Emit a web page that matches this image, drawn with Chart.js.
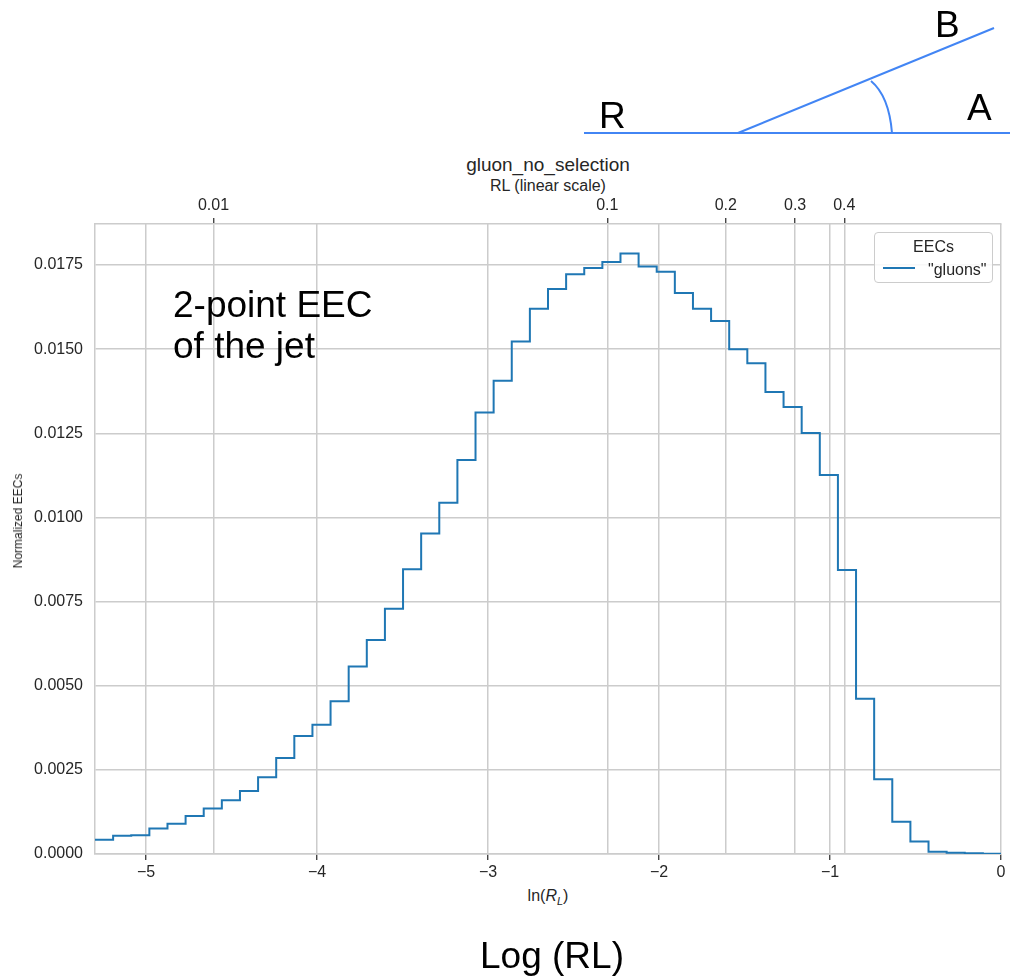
<!DOCTYPE html>
<html>
<head>
<meta charset="utf-8">
<title>gluon_no_selection</title>
<script src="https://cdn.jsdelivr.net/npm/chart.js@4.4.1/dist/chart.umd.min.js"></script>
<style>
  html, body { margin: 0; padding: 0; background: #fff; }
  #wrap {
    position: relative;
    width: 1013px;
    height: 978px;
    font-family: "Liberation Sans", Arial, sans-serif;
    color: #262626;
  }
  #chart { position: absolute; left: 0; top: 0; z-index: 2; }
  #sketch { position: absolute; left: 0; top: 0; z-index: 1; }
  .txt { position: absolute; white-space: nowrap; line-height: 1; }
  .big { color: #000; font-size: 37px; z-index: 3; }
  .center { transform: translateX(-50%); }
  #ylabel {
    position: absolute;
    left: 18px;
    top: 521px;
    font-size: 12px;
    line-height: 1;
    white-space: nowrap;
    transform: translate(-50%, -50%) rotate(-90deg);
    z-index: 3;
  }
  #legend {
    position: absolute;
    left: 874px;
    top: 232px;
    width: 117px;
    height: 49px;
    border: 1px solid #cccccc;
    border-radius: 4px;
    background: rgba(255, 255, 255, 0.85);
    z-index: 4;
    font-size: 16px;
  }
  #legend .title { position: absolute; left: 0; width: 100%; text-align: center; top: 5px; }
  #legend .swatch { position: absolute; left: 8px; top: 34px; width: 32px; height: 2px; background: #1f77b4; }
  #legend .label { position: absolute; left: 53px; top: 28px; }
</style>
</head>
<body>
<div id="wrap">
  <!-- angle sketch: R, A, B -->
  <svg id="sketch" width="1013" height="160">
    <line x1="584" y1="133" x2="1010" y2="133" stroke="#4285f4" stroke-width="2" />
    <line x1="738" y1="133" x2="994" y2="28" stroke="#4285f4" stroke-width="2" />
    <path d="M 871 81 Q 889 96 892 133" fill="none" stroke="#4285f4" stroke-width="2" />
  </svg>
  <div class="txt big" style="left:599px; top:97px;">R</div>
  <div class="txt big" style="left:967px; top:89px;">A</div>
  <div class="txt big" style="left:935px; top:6px;">B</div>

  <div class="txt center" style="left:548px; top:155px; font-size:19px;">gluon_no_selection</div>
  <div class="txt center" style="left:548px; top:178px; font-size:16px;">RL (linear scale)</div>

  <div class="txt big" style="left:173px; top:284px; line-height:41px;">2-point EEC<br>of the jet</div>

  <div id="ylabel">Normalized EECs</div>
  <div class="txt center" style="left:548px; top:888px; font-size:16px;">ln(<i>R</i><sub style="font-size:11px;"><i>L</i></sub>)</div>
  <div class="txt big center" style="left:552px; top:937px;">Log (RL)</div>

  <div id="legend">
    <div class="title">EECs</div>
    <div class="swatch"></div>
    <div class="label">"gluons"</div>
  </div>

  <canvas id="chart" width="1013" height="978"></canvas>
</div>

<script>
// histogram: 50 log bins from ln(0.005) up to ln(1)
const binLo = Math.log(0.005);
const binHi = 0;
const nBins = 50;

const eecValues = [
  0.00042, 0.00054, 0.00056, 0.00076, 0.00090, 0.00113, 0.00135, 0.00160, 0.00187, 0.00228,
  0.00285, 0.00351, 0.00384, 0.00454, 0.00557, 0.00636, 0.00729, 0.00846, 0.00952, 0.01044,
  0.01171, 0.01312, 0.01406, 0.01523, 0.01620, 0.01679, 0.01723, 0.01741, 0.01759, 0.01784,
  0.01746, 0.01730, 0.01667, 0.01620, 0.01584, 0.01500, 0.01458, 0.01373, 0.01328, 0.01251,
  0.01126, 0.00844, 0.00461, 0.00222, 0.00096, 0.00037, 0.00007, 0.00004, 0.00002, 0.00001
];

// axis ticks
const lnTicks = [-5, -4, -3, -2, -1, 0];
const rlTicks = [0.01, 0.1, 0.2, 0.3, 0.4];
const yTicks = [0, 0.0025, 0.005, 0.0075, 0.01, 0.0125, 0.015, 0.0175];
const yMax = 0.01872;

// step points: each value holds from its left edge to the next edge
const binWidth = (binHi - binLo) / nBins;
const stepPoints = eecValues.map((v, i) => ({ x: binLo + i * binWidth, y: v }));
stepPoints.push({ x: binHi, y: eecValues[eecValues.length - 1] });

const gridColor = "#cccccc";
const textColor = "#262626";

Chart.defaults.font.family = '"Liberation Sans", Arial, sans-serif';
Chart.defaults.color = textColor;

const ctx = document.getElementById("chart").getContext("2d");
new Chart(ctx, {
  type: "line",
  data: {
    datasets: [
      {
        label: '"gluons"',
        data: stepPoints,
        stepped: true,
        borderColor: "#1f77b4",
        borderWidth: 2,
        pointRadius: 0,
        fill: false,
      },
    ],
  },
  options: {
    responsive: false,
    animation: false,
    layout: { padding: { left: 0, right: 12, top: 0, bottom: 0 } },
    plugins: {
      legend: { display: false },
      tooltip: { enabled: false },
    },
    scales: {
      x: {
        type: "linear",
        position: "bottom",
        min: binLo,
        max: binHi,
        afterBuildTicks: (s) => {
          s.ticks = lnTicks.map((v) => ({ value: v }));
        },
        afterFit: (s) => {
          s.height = 124;
        },
        ticks: {
          font: { size: 16 },
          padding: 3,
          maxRotation: 0,
          callback: (v) => (v < 0 ? "\u2212" + Math.abs(v) : String(v)),
        },
        grid: {
          color: gridColor,
          lineWidth: 1.5,
          tickColor: textColor,
          tickLength: 6,
          tickWidth: 1.2,
        },
        border: { color: gridColor, width: 1.5 },
      },
      x2: {
        type: "linear",
        position: "top",
        min: binLo,
        max: binHi,
        afterBuildTicks: (s) => {
          s.ticks = rlTicks.map((r) => ({ value: Math.log(r) }));
        },
        afterFit: (s) => {
          s.height = 224;
        },
        ticks: {
          font: { size: 16 },
          padding: 3,
          maxRotation: 0,
          callback: (v) => {
            const r = rlTicks.find((t) => Math.abs(Math.log(t) - v) < 1e-6);
            return r === undefined ? "" : String(r);
          },
        },
        grid: {
          color: gridColor,
          lineWidth: 1.5,
          tickColor: textColor,
          tickLength: 6,
          tickWidth: 1.2,
        },
        border: { color: gridColor, width: 1.5 },
      },
      y: {
        min: 0,
        max: yMax,
        afterBuildTicks: (s) => {
          s.ticks = yTicks.map((v) => ({ value: v }));
        },
        afterFit: (s) => {
          s.width = 95;
        },
        ticks: {
          font: { size: 16 },
          padding: 12,
          callback: (v) => v.toFixed(4),
        },
        grid: { color: gridColor, lineWidth: 1.5, drawTicks: false },
        border: { color: gridColor, width: 1.5 },
      },
    },
  },
});
</script>
</body>
</html>
